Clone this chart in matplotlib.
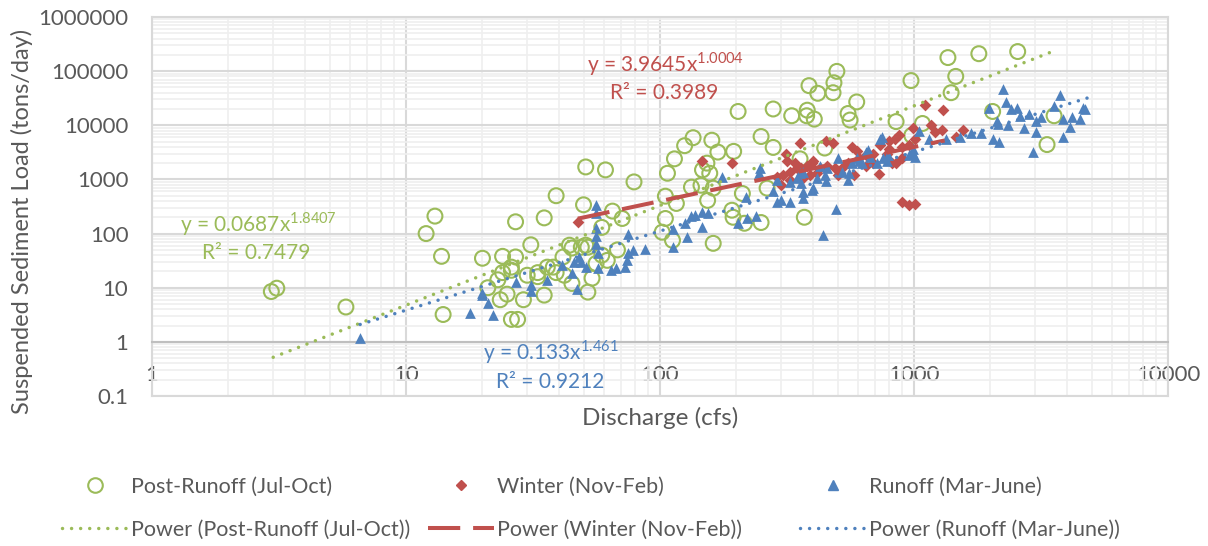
import matplotlib
matplotlib.use("Agg")
import matplotlib.pyplot as plt
import numpy as np
from matplotlib.lines import Line2D
from matplotlib.ticker import FixedLocator, FixedFormatter, LogLocator, NullFormatter

plt.rcParams["font.family"] = ["Lato", "DejaVu Sans"]

# Post-Runoff (Jul-Oct)
post_x = [2.95, 3.1, 5.8, 12, 13, 13.8, 14,
          20, 21, 23, 23.5, 24, 24, 25, 26, 26, 26, 27, 27, 27.5, 29, 30, 31, 33, 33,
          35, 35, 36, 38, 39, 39, 41.5, 42, 44, 45, 45, 49, 50, 51, 51, 52, 52, 54,
          56, 59, 59, 61, 62, 65, 68, 71, 79,
          102, 105, 105, 107, 112, 114, 116, 125, 133, 135, 145, 147, 153, 154, 157,
          160, 162, 162, 169, 192, 194, 195, 203, 211, 215, 250, 250, 264, 279, 279,
          330, 356, 370, 378, 380, 386, 405, 418, 445, 480, 484, 497, 550, 560, 595,
          850, 973, 980, 1080, 1360, 1400, 1460, 1800, 2040, 2560, 3340, 3560]
post_y = [8.5, 9.8, 4.4, 100, 210, 38, 3.2,
          35, 10, 14, 6, 38, 19, 7.6, 21, 24, 2.6, 37, 165, 2.6, 6, 17, 62, 16, 19,
          195, 7.3, 24, 24, 19, 500, 37, 17, 61, 12, 54, 56, 340, 1700, 61, 8.3, 56, 15,
          28, 130, 40, 1500, 32, 260, 50, 190, 900,
          106, 490, 190, 1300, 75, 2400, 360, 4200, 720, 5900, 780, 1500, 2000, 410, 1300,
          5300, 690, 66, 3200, 270, 200, 3300, 18000, 550, 155, 160, 6200, 690, 20000, 3900,
          15000, 2400, 200, 15000, 19000, 54000, 13000, 39000, 3800, 40000, 61000, 99000, 16500, 12500, 27000,
          11700, 67000, 6500, 10800, 178000, 40000, 80000, 210000, 18000, 230000, 4400, 15000]

# Winter (Nov-Feb)
win_x = [47.5, 146, 192, 290, 300, 305, 313, 317, 325, 325, 340, 345, 355, 360, 365,
         380, 390, 395, 400, 415, 425, 450, 455, 478, 490, 500, 520, 550, 570, 580,
         595, 610, 650, 650, 690, 690, 725, 735, 780, 800, 800, 820, 840, 850, 870,
         900, 900, 900, 960, 960, 990, 1010, 1010, 1100, 1170, 1210, 1290, 1300, 1460, 1560]
win_y = [165, 2150, 2000, 1100, 780, 1200, 2900, 2200, 1350, 960, 2000, 1600, 4700, 1600, 1050,
         1800, 1200, 2050, 2200, 1300, 1600, 5200, 1800, 4800, 1600, 1200, 1600, 2050, 3900, 1200,
         3400, 2450, 2800, 1800, 2050, 3000, 1280, 4300, 3000, 3700, 5200, 2050, 5700, 2050, 6500,
         2450, 3900, 380, 340, 4300, 8800, 350, 5700, 24000, 10000, 7400, 8300, 19000, 6200, 8300]

# Runoff (Mar-June)
run_x = [6.6, 17.9, 20, 20, 21, 22, 27, 31, 31, 36, 41, 45, 46, 47, 48, 49, 51,
         56, 56, 56, 56, 56, 57, 57, 64, 67, 73, 74, 75, 75, 78, 87,
         112, 112, 126, 128, 133, 137, 147, 147, 154, 176, 203, 218, 220, 238, 245, 248,
         279, 288, 290, 300, 325, 325, 345, 355, 360, 365, 365, 365, 395, 400, 415, 425,
         440, 445, 450, 455, 495, 500, 520, 550, 555, 570, 595, 610, 625, 650, 660, 670,
         715, 735, 745, 755, 780, 790, 960, 980, 990, 1010, 1050, 1150, 1340, 1520, 1670,
         1830, 1970, 2050, 2130, 2150, 2170, 2250, 2300, 2350, 2420, 2550, 2620, 2700, 2830,
         2950, 3030, 3030, 3150, 3550, 3750, 3850, 3850, 4100, 4200, 4500, 4620, 4700]
run_y = [1.2, 3.4, 7.3, 8, 5.2, 3.1, 12.7, 11, 8.8, 14, 26, 19, 30, 9.3, 37, 30, 24,
         335, 240, 126, 90, 65, 44, 23, 21, 23, 24, 32, 43, 100, 50, 52,
         120, 56, 155, 86, 210, 220, 130, 250, 240, 1100, 160, 470, 190, 215, 1300, 1600,
         620, 960, 380, 410, 880, 380, 1050, 1300, 850, 580, 450, 1350, 630, 690, 1050, 1800,
         93, 1200, 950, 1600, 290, 2450, 1350, 960, 1300, 2050, 2450, 2200, 2000, 3200, 3500, 2600,
         2050, 5700, 6200, 2500, 2200, 2800, 2800, 3200, 3700, 2600, 8000, 5700, 5700, 6000, 7300,
         7100, 21000, 5700, 12000, 10600, 5000, 47000, 27000, 10000, 20000, 21000, 15000, 8800, 16500,
         3200, 12000, 7400, 14000, 23000, 36000, 6200, 13000, 9200, 14500, 13000, 21000, 20000]

# trendline fits (as printed on the chart): y = a * x^b, drawn over the x range of each series
fits = {
    "post": (0.0687, 1.8407, 3.0, 3500),
    "win": (3.9645, 1.0004, 47.5, 1320),
    "run": (0.133, 1.461, 6.6, 4800),
}

GREEN = "#9bbb59"
RED = "#c0504d"
BLUE = "#4f81bd"
GREY = "#595959"

fig = plt.figure(figsize=(12.08, 5.46), dpi=100)
W, H = 1208, 546
ax = fig.add_axes([152 / W, 1 - 396 / H, 1016 / W, 379 / H])
ax.set_xscale("log")
ax.set_yscale("log")
ax.set_xlim(1, 10000)
ax.set_ylim(0.1, 1000000)

ax.scatter(post_x, post_y, s=115, facecolors="none", edgecolors=GREEN, linewidths=1.5, zorder=3)
ax.scatter(win_x, win_y, marker="D", s=36, color=RED, linewidths=0, zorder=3)
ax.scatter(run_x, run_y, marker="^", s=60, color=BLUE, linewidths=0, zorder=3)

dot_style = dict(linestyle=(0, (0.01, 2.6)), dash_capstyle="round", lw=2.5)
lines = {}
for key, color, style in [("post", GREEN, dot_style),
                          ("win", RED, dict(linestyle=(0, (8, 3.2)), lw=2.9)),
                          ("run", BLUE, dot_style)]:
    a, b, x0, x1 = fits[key]
    xs = np.logspace(np.log10(x0), np.log10(x1), 200)
    lines[key] = ax.plot(xs, a * xs ** b, color=color, zorder=4, **style)[0]

# grid
ax.xaxis.set_minor_locator(LogLocator(base=10, subs=np.arange(2, 10), numticks=20))
ax.yaxis.set_minor_locator(LogLocator(base=10, subs=np.arange(2, 10), numticks=20))
ax.xaxis.set_minor_formatter(NullFormatter())
ax.yaxis.set_minor_formatter(NullFormatter())
ax.grid(True, which="minor", color="#efefef", lw=1.2, zorder=0)
ax.grid(True, which="major", color="#d9d9d9", lw=1.5, zorder=1)
ax.set_axisbelow(True)

xticks = [1, 10, 100, 1000, 10000]
yticks = [0.1, 1, 10, 100, 1000, 10000, 100000, 1000000]
ax.xaxis.set_major_locator(FixedLocator(xticks))
ax.xaxis.set_major_formatter(FixedFormatter([str(v) for v in xticks]))
ax.yaxis.set_major_locator(FixedLocator(yticks))
ax.yaxis.set_major_formatter(FixedFormatter(["0.1", "1", "10", "100", "1000", "10000", "100000", "1000000"]))
ax.tick_params(which="both", length=0, labelsize=16, labelcolor=GREY)
ax.tick_params(axis="x", pad=17)
ax.tick_params(axis="y", pad=17)

for side in ["top", "right", "left"]:
    ax.spines[side].set_color("#d9d9d9")
    ax.spines[side].set_linewidth(1.5)
ax.spines["bottom"].set_position(("data", 1))
ax.spines["bottom"].set_color("#bfbfbf")
ax.spines["bottom"].set_linewidth(1.5)
ax.axhline(0.1, color="#d9d9d9", lw=1.5, clip_on=False, zorder=1)

fig.text(660 / W, 1 - 418 / H, "Discharge (cfs)", ha="center", va="center", fontsize=17.5, color=GREY)
fig.text(22 / W, 1 - 221 / H, "Suspended Sediment Load (tons/day)", ha="center", va="center",
         rotation=90, fontsize=17, color=GREY)

# trendline equations
eqs = [
    (180, 232, 202, 259, "0.0687", "1.8407", "0.7479", GREEN),
    (587, 72, 610, 99, "3.9645", "1.0004", "0.3989", RED),
    (483, 359, 496, 388, "0.133", "1.461", "0.9212", BLUE),
]
for ex, ey, rx, ry, a, b, r2, color in eqs:
    fig.text(ex / W, 1 - ey / H, "y = " + a + "x$^{\\mathregular{" + b + "}}$",
             ha="left", va="baseline", fontsize=15, color=color)
    fig.text(rx / W, 1 - ry / H, "R² = " + r2, ha="left", va="baseline", fontsize=15, color=color)

# legend: three columns, marker on top row, trendline below
entries = [
    (62, Line2D([], [], ls="none", marker="o", mfc="none", mec=GREEN, mew=1.5, ms=10.5),
     "Post-Runoff (Jul-Oct)", lines["post"], "Power (Post-Runoff (Jul-Oct))"),
    (428, Line2D([], [], ls="none", marker="D", color=RED, ms=5.5),
     "Winter (Nov-Feb)", lines["win"], "Power (Winter (Nov-Feb))"),
    (800, Line2D([], [], ls="none", marker="^", color=BLUE, ms=7.5),
     "Runoff (Mar-June)", lines["run"], "Power (Runoff (Mar-June))"),
]
for x0, mh, mlabel, lh, llabel in entries:
    fig.legend([mh, lh], [mlabel, llabel], loc="upper left",
               bbox_to_anchor=(x0 / W, 1 - 477 / H), frameon=False, fontsize=15.5,
               handlelength=3.05, handletextpad=0.15, borderpad=0, borderaxespad=0,
               labelspacing=1.05, labelcolor=GREY)

fig.savefig("out.png", dpi=100)
